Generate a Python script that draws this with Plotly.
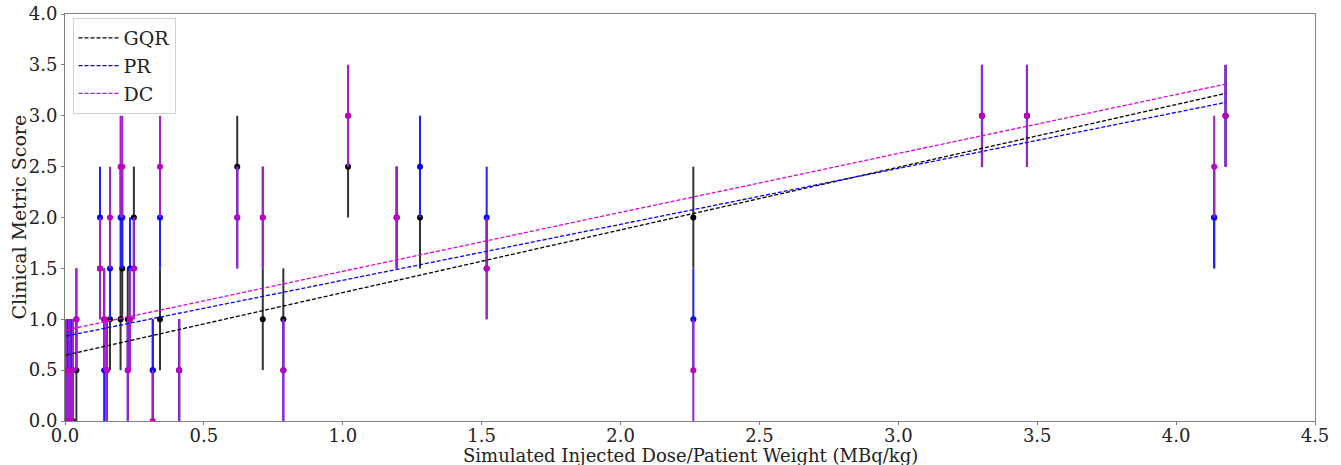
import plotly.graph_objects as go

# Dose / weight per patient (MBq/kg)
dose = [0.004, 0.010, 0.016, 0.022, 0.028, 0.041, 0.126, 0.141, 0.150, 0.162,
        0.200, 0.206, 0.226, 0.234, 0.248, 0.316, 0.342, 0.411, 0.620, 0.712,
        0.786, 1.019, 1.194, 1.278, 1.518, 2.262, 3.301, 3.463, 4.137, 4.178]

gqr = [0.0, 0.5, 0.0, 0.5, 0.0, 0.5, 1.5, 1.0, 0.5, 1.0,
       1.0, 1.5, 1.0, 1.0, 2.0, 0.5, 1.0, 0.5, 2.5, 1.0,
       1.0, 2.5, 2.0, 2.0, 1.5, 2.0, 3.0, 3.0, 2.0, 3.0]

pr = [0.5, 0.5, 0.5, 0.5, 0.5, 1.0, 2.0, 0.5, 0.5, 1.5,
      2.0, 2.0, 0.5, 1.5, 1.5, 0.5, 2.0, 0.5, 2.0, 2.0,
      0.5, 3.0, 2.0, 2.5, 2.0, 1.0, 3.0, 3.0, 2.0, 3.0]

dc = [0.5, 0.0, 0.5, 0.0, 0.5, 1.0, 1.5, 1.0, 0.5, 2.0,
      2.5, 2.5, 0.5, 1.0, 1.5, 0.0, 2.5, 0.5, 2.0, 2.0,
      0.5, 3.0, 2.0, None, 1.5, 0.5, 3.0, 3.0, 2.5, 3.0]

err = 0.5

methods = ["GQR", "PR", "DC"]
fit_intercept = [0.646, 0.833, 0.892]
fit_slope = [0.616, 0.550, 0.579]

marker_colors = ["#000000", "#0000ff", "#bf00bf"]
bar_colors = ["#333333", "#1f1fff", "#a31fd0"]
line_colors = ["#000000", "#0000ff", "#e000e0"]

x_ticks = [0.0, 0.5, 1.0, 1.5, 2.0, 2.5, 3.0, 3.5, 4.0, 4.5]
y_ticks = [0.0, 0.5, 1.0, 1.5, 2.0, 2.5, 3.0, 3.5, 4.0]

x_title = "Simulated Injected Dose/Patient Weight (MBq/kg)"
y_title = "Clinical Metric Score"

fig = go.Figure()

for name, vals, mc, bc in zip(methods, [gqr, pr, dc], marker_colors, bar_colors):
    fig.add_trace(go.Scatter(
        x=dose, y=vals, mode="markers", showlegend=False,
        marker=dict(color=mc, size=6),
        error_y=dict(type="constant", value=err, color=bc, thickness=2, width=0),
        cliponaxis=True,
    ))

x_lo, x_hi = min(dose), max(dose)
for name, b0, b1, lc in zip(methods, fit_intercept, fit_slope, line_colors):
    fig.add_trace(go.Scatter(
        x=[x_lo, x_hi], y=[b0 + b1 * x_lo, b0 + b1 * x_hi], mode="lines",
        name=name, line=dict(color=lc, width=1.3, dash="4px,2px"),
    ))

font_family = "DejaVu Serif"
axis_common = dict(
    showline=True, linecolor="#808080", linewidth=1, mirror=True,
    ticks="outside", ticklen=3, tickcolor="#808080", showgrid=False, zeroline=False,
    tickfont=dict(family=font_family, size=18, color="#222"), automargin=False,
)

fig.update_layout(
    width=1341, height=465,
    margin=dict(l=65, r=26, t=14, b=44),
    paper_bgcolor="white", plot_bgcolor="white",
    font=dict(family=font_family, color="#222"),
    xaxis=dict(range=[0, 4.5], tickvals=x_ticks, ticktext=[f"{v:.1f}" for v in x_ticks],
               ticklabelstandoff=-5, **axis_common),
    yaxis=dict(range=[0, 4], tickvals=y_ticks, ticktext=[f"{v:.1f}" for v in y_ticks],
               **axis_common),
    legend=dict(x=0.006, y=0.99, xanchor="left", yanchor="top",
                bgcolor="rgba(255,255,255,0.9)", bordercolor="#d0d0d0", borderwidth=1,
                font=dict(family=font_family, size=19, color="#222"),
                itemwidth=40, tracegroupgap=0),
    showlegend=True,
    annotations=[
        dict(text=x_title, xref="paper", yref="paper", x=0.5, y=0,
             xanchor="center", yanchor="middle", yshift=-34, showarrow=False,
             font=dict(family=font_family, size=18, color="#222")),
        dict(text=y_title, xref="paper", yref="paper", x=0, y=0.5,
             xanchor="center", yanchor="middle", xshift=-47, textangle=-90,
             showarrow=False, font=dict(family=font_family, size=19, color="#222")),
    ],
)

fig.write_html("out.html")
